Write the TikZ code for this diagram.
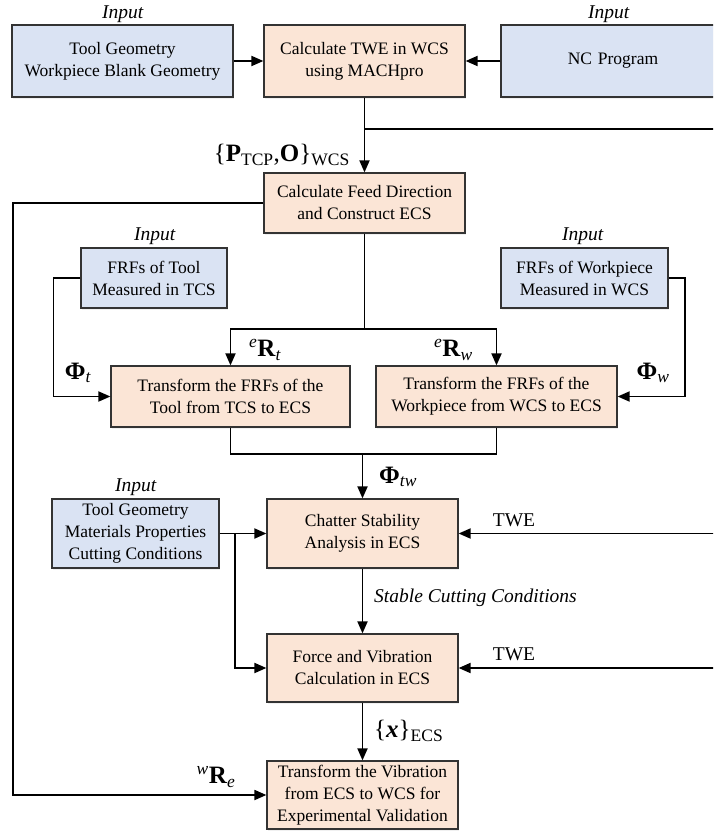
\documentclass[tikz,border=0pt]{standalone}
\usepackage{fontspec}
\setmainfont{Liberation Serif}
\usetikzlibrary{arrows.meta,shadows}
\definecolor{inblue}{HTML}{DAE3F3}
\definecolor{procorange}{HTML}{FBE5D6}

\begin{document}
\begin{tikzpicture}[x=1pt,y=-1pt,
    blockbase/.style={draw=black!80,line width=1.2pt,align=center,inner sep=0pt,font=\boxfontsize,
      drop shadow={opacity=0.12,shadow xshift=1pt,shadow yshift=-2pt}},
    inputbox/.style={blockbase,fill=inblue},
    procbox/.style={blockbase,fill=procorange},
    link/.style={line width=1.8pt},
    flow/.style={link,-{Triangle[length=12pt,width=10pt]}},
    tag/.style={font=\tagfontsize,inner sep=0pt},
    note/.style={font=\notefontsize,inner sep=0pt}]
    \providecommand{\boxfontsize}{\fontsize{17.5}{22}\selectfont}
    \providecommand{\notefontsize}{\fontsize{19.5}{22}\selectfont}
    \providecommand{\tagfontsize}{\fontsize{25}{28}\selectfont}
    \useasboundingbox (0,0) rectangle (713,832);
    \clip (0,0) rectangle (713,832);
    % top row
    \node[inputbox,minimum width=221,minimum height=72] (tool) at (122.5,61) {Tool Geometry\\Workpiece Blank Geometry};
    \node[procbox,minimum width=201,minimum height=72] (twe) at (364.5,61) {Calculate TWE in WCS\\using MACHpro};
    \node[inputbox,minimum width=224,minimum height=72,text width=190] (nc) at (613,61) {NC Program};
    \node[note] (intool) at (123,14) {\textit{Input}};
    \node[note] (innc) at (609,14) {\textit{Input}};
    % feed direction
    \node[procbox,minimum width=201,minimum height=60] (feed) at (364.5,203) {Calculate Feed Direction\\and Construct ECS};
    % FRFs
    \node[inputbox,minimum width=146,minimum height=60] (frft) at (154,278) {FRFs of Tool\\Measured in TCS};
    \node[inputbox,minimum width=167,minimum height=60] (frfw) at (584.5,278) {FRFs of Workpiece\\Measured in WCS};
    \node[note] (infrft) at (155,236) {\textit{Input}};
    \node[note] (infrfw) at (583,236) {\textit{Input}};
    \node[procbox,minimum width=239,minimum height=61] (trt) at (230.5,396.5) {Transform the FRFs of the\\Tool from TCS to ECS};
    \node[procbox,minimum width=241,minimum height=61] (trw) at (496.5,396.5) {Transform the FRFs of the\\Workpiece from WCS to ECS};
    % stability and vibration
    \node[inputbox,minimum width=167,minimum height=69] (cut) at (135.5,533.5) {Tool Geometry\\Materials Properties\\Cutting Conditions};
    \node[note] (incut) at (136,487) {\textit{Input}};
    \node[procbox,minimum width=191,minimum height=69] (chat) at (362.5,533.5) {Chatter Stability\\Analysis in ECS};
    \node[procbox,minimum width=191,minimum height=68] (force) at (362.5,668) {Force and Vibration\\Calculation in ECS};
    \node[procbox,minimum width=191,minimum height=68] (vib) at (362.5,795) {Transform the Vibration\\from ECS to WCS for\\Experimental Validation};
    % connectors
    \coordinate (tweout) at (twe.south |- 0,129);
    \coordinate (tweedge) at (720,129);
    \coordinate (leftrail) at (13,0);
    \coordinate (split) at (feed.south |- 0,329);
    \coordinate (join) at (chat.north |- 0,454);
    \coordinate (cutsplit) at (235,533.5);
    \coordinate (tweA) at (720,533.5);
    \coordinate (tweB) at (720,668);
    \draw[flow] (tool) -- (twe);
    \draw[flow] (nc) -- (twe);
    \draw[flow] (twe) -- (feed);
    \draw[link] (tweout) -- (tweedge);
    \draw[flow] (feed.west) -- (feed.west -| leftrail) |- (vib.west);
    \draw[flow] (frft.west) -- ++(-27,0) |- (trt.west);
    \draw[flow] (frfw.east) -- ++(16,0) |- (trw.east);
    \draw[link] (feed) -- (split);
    \draw[flow] (split) -| (trt.north);
    \draw[flow] (split) -| (trw.north);
    \draw[link] (trt.south) |- (join);
    \draw[link] (trw.south) |- (join);
    \draw[flow] (join) -- (chat);
    \draw[flow] (cut) -- (chat);
    \draw[flow] (cutsplit) |- (force.west);
    \draw[flow] (tweA) -- (chat.east);
    \draw[flow] (tweB) -- (force.east);
    \draw[flow] (chat) -- (force);
    \draw[flow] (force) -- (vib);
    % labels
    \node[tag,anchor=east] (ptcp) at (350,155) {\{\textbf{P}\textsubscript{TCP},\textbf{O}\}\textsubscript{WCS}};
    \node[tag,anchor=west] (ert) at (249,350) {\textsuperscript{\textit{e}}\textbf{R}\textsubscript{\textit{t}}};
    \node[tag,anchor=west] (erw) at (434,350) {\textsuperscript{\textit{e}}\textbf{R}\textsubscript{\textit{w}}};
    \node[tag] (phit) at (78,373) {\textbf{Φ}\textsubscript{\textit{t}}};
    \node[tag] (phiw) at (653,373) {\textbf{Φ}\textsubscript{\textit{w}}};
    \node[tag,anchor=west] (phitw) at (379,477) {\textbf{Φ}\textsubscript{\textit{tw}}};
    \node[note] (tweinA) at (514,520) {TWE};
    \node[note] (tweinB) at (514,654) {TWE};
    \node[note,anchor=west] (stable) at (374,598) {\textit{Stable Cutting Conditions}};
    \node[tag,anchor=west] (xecs) at (374,731) {\{\textbf{\textit{x}}\}\textsubscript{ECS}};
    \node[tag] (wre) at (216,777) {\textsuperscript{\textit{w}}\textbf{R}\textsubscript{\textit{e}}};
\end{tikzpicture}
\end{document}
